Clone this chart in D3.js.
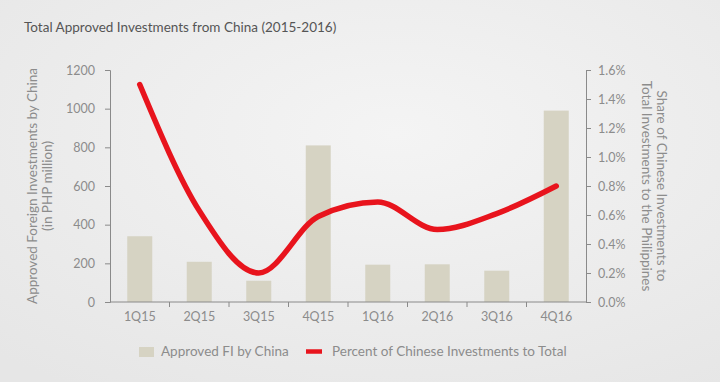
<!DOCTYPE html>
<html><head><meta charset="utf-8">
<script src="https://cdn.jsdelivr.net/npm/d3@7"></script>
<style>
html,body{margin:0;padding:0;background:#ececec;}
svg{display:block;font-family:Lato,"Open Sans",sans-serif;}
</style></head>
<body>
<svg id="c" width="720" height="382"></svg>
<script>
const categories = ["1Q15","2Q15","3Q15","4Q15","1Q16","2Q16","3Q16","4Q16"];
const approvedFI = [340, 208, 110, 810, 193, 195, 162, 990];
const percentShare = [1.50, 0.63, 0.20, 0.59, 0.69, 0.50, 0.61, 0.80];
const leftTicks = [0,200,400,600,800,1000,1200];
const rightTicks = [0,0.2,0.4,0.6,0.8,1.0,1.2,1.4,1.6];

const svg = d3.select("#c");
const defs = svg.append("defs");
const g0 = defs.append("radialGradient").attr("id","bg").attr("cx","0.55").attr("cy","0.35").attr("r","0.8");
g0.append("stop").attr("offset","0").attr("stop-color","#f4f4f4");
g0.append("stop").attr("offset","1").attr("stop-color","#e6e6e6");
svg.append("rect").attr("width",720).attr("height",382).attr("fill","url(#bg)");

const L = 110, R = 586, T = 70, B = 302;
const x = d3.scaleBand().domain(categories).range([L,R]).paddingInner(0.58).paddingOuter(0.29);
const xb = d3.scaleBand().domain(categories).range([L,R]);
const yL = d3.scaleLinear().domain([0,1200]).range([B,T]);
const yR = d3.scaleLinear().domain([0,1.6]).range([B,T]);

const axisCol = "#8a8a8a", textCol = "#8c8c8c";

svg.append("text").attr("x",24).attr("y",32).attr("font-size",13.5).attr("fill","#555")
  .text("Total Approved Investments from China (2015-2016)");

// bars
svg.append("g").selectAll("rect").data(categories).join("rect")
  .attr("x",d=>x(d)).attr("width",x.bandwidth())
  .attr("y",(d,i)=>yL(approvedFI[i])).attr("height",(d,i)=>B-yL(approvedFI[i]))
  .attr("fill","#d6d3c3");

// left axis
const ga = svg.append("g").attr("transform",`translate(${L},0)`)
  .call(d3.axisLeft(yL).tickValues(leftTicks).tickFormat(d3.format("d")).tickSize(5).tickPadding(10));
ga.select(".domain").attr("stroke",axisCol);
ga.selectAll(".tick line").attr("stroke",axisCol);
ga.selectAll("text").attr("fill",textCol).attr("font-size",12.5).attr("font-family","Lato,sans-serif");

// right axis
const gr = svg.append("g").attr("transform",`translate(${R},0)`)
  .call(d3.axisRight(yR).tickValues(rightTicks).tickSize(5).tickPadding(7).tickFormat(d=>d.toFixed(1)+"%"));
gr.select(".domain").attr("stroke",axisCol);
gr.selectAll(".tick line").attr("stroke",axisCol);
gr.selectAll("text").attr("fill",textCol).attr("font-size",12.5).attr("font-family","Lato,sans-serif");

// x axis
const gx = svg.append("g").attr("transform",`translate(0,${B})`)
  .call(d3.axisBottom(xb).tickSize(0).tickPadding(10));
gx.select(".domain").attr("stroke",axisCol).attr("d",`M${L},0H${R}`);
gx.selectAll("text").attr("fill",textCol).attr("font-size",12.5).attr("font-family","Lato,sans-serif");
svg.append("g").selectAll("line").data(categories.slice(1)).join("line")
  .attr("x1",d=>xb(d)).attr("x2",d=>xb(d)).attr("y1",B).attr("y2",B+5).attr("stroke",axisCol);

// line
const line = d3.line().x((d,i)=>xb(categories[i])+xb.bandwidth()/2).y(d=>yR(d)).curve(d3.curveMonotoneX);
svg.append("path").datum(percentShare).attr("d",line).attr("fill","none")
  .attr("stroke","#e8141d").attr("stroke-width",5.5).attr("stroke-linecap","round").attr("stroke-linejoin","round");

// axis titles
svg.append("text").attr("transform","translate(37,186) rotate(-90)").attr("text-anchor","middle")
  .attr("font-size",13.5).attr("fill",textCol).text("Approved Foreign Investments by China");
svg.append("text").attr("transform","translate(52,186) rotate(-90)").attr("text-anchor","middle")
  .attr("font-size",13.5).attr("fill",textCol).text("(in PHP million)");
svg.append("text").attr("transform","translate(657,186) rotate(90)").attr("text-anchor","middle")
  .attr("font-size",13.5).attr("fill",textCol).text("Share of Chinese Investments to");
svg.append("text").attr("transform","translate(642,186) rotate(90)").attr("text-anchor","middle")
  .attr("font-size",13.5).attr("fill",textCol).text("Total Investments to the Philippines");

// legend
svg.append("rect").attr("x",139).attr("y",347).attr("width",15).attr("height",10).attr("fill","#d6d3c3");
svg.append("text").attr("x",161).attr("y",356).attr("font-size",13.5).attr("fill",textCol).text("Approved FI by China");
svg.append("line").attr("x1",306).attr("x2",322).attr("y1",351.5).attr("y2",351.5).attr("stroke","#e8141d").attr("stroke-width",4.5);
svg.append("text").attr("x",332).attr("y",356).attr("font-size",13.5).attr("fill",textCol).text("Percent of Chinese Investments to Total");
</script>
</body></html>
